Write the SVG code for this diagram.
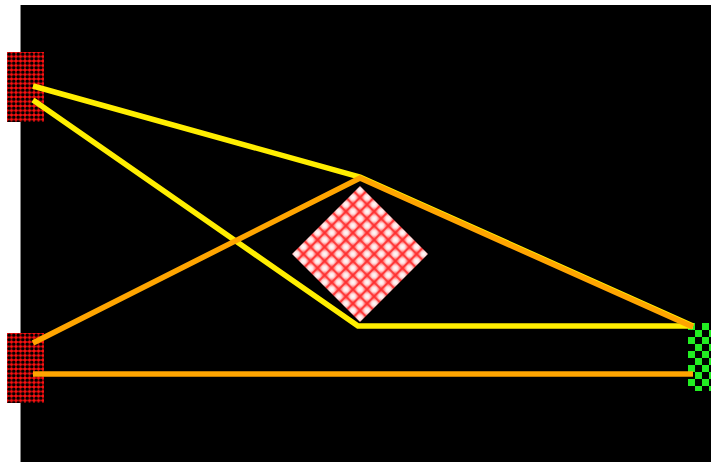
<svg xmlns="http://www.w3.org/2000/svg" width="711" height="462" viewBox="0 0 711 462">
<defs>
<style>
.y{fill:none;stroke:#ffee00;stroke-width:5.5;stroke-linejoin:miter}
.o{fill:none;stroke:#ffa500;stroke-width:5.5;stroke-linejoin:miter}
</style>
<pattern id="dots" width="4.5" height="4.5" patternUnits="userSpaceOnUse" x="7" y="52">
<rect width="4.5" height="4.5" fill="#ff1010"/>
<circle cx="2.25" cy="2.25" r="1.9" fill="#000"/>
</pattern>
<pattern id="dots2" width="4.5" height="4.5" patternUnits="userSpaceOnUse" x="7" y="333">
<rect width="4.5" height="4.5" fill="#ff1010"/>
<circle cx="2.25" cy="2.25" r="1.9" fill="#000"/>
</pattern>
<pattern id="check" width="14" height="14" patternUnits="userSpaceOnUse" x="688" y="323">
<rect width="14" height="14" fill="#000"/>
<rect width="7" height="7" fill="#22ee22"/>
<rect x="7" y="7" width="7" height="7" fill="#22ee22"/>
</pattern>
<radialGradient id="cell">
<stop offset="0" stop-color="#ffffff"/>
<stop offset="0.5" stop-color="#ffe0e0"/>
<stop offset="1" stop-color="#ff7070"/>
</radialGradient>
<pattern id="grid" width="10" height="10" patternUnits="userSpaceOnUse" patternTransform="rotate(45 360 254)" x="360" y="254">
<rect width="10" height="10" fill="url(#cell)"/>
<path d="M0 0H10M0 0V10M0 10H10M10 0V10" stroke="#ff2a2a" stroke-width="1.6" fill="none"/>
</pattern>
</defs>
<rect x="21" y="5" width="690" height="457" fill="#000"/>
<line x1="20.5" y1="5" x2="20.5" y2="462" stroke="#888" stroke-width="1"/>
<g id="diamond">
<polygon points="360,186 428,254 360,322 292,254" fill="url(#grid)"/>
</g>
<g id="node-left-top">
<rect x="7" y="52" width="37" height="70" fill="url(#dots)"/>
</g>
<g id="node-left-bottom">
<rect x="7" y="333" width="37" height="70" fill="url(#dots2)"/>
</g>
<g id="node-right">
<rect x="688" y="323" width="23" height="68" fill="url(#check)"/>
</g>
<g id="connectors">
<polyline class="o" points="33,374 363,374 693,374"/>
<polyline class="y" points="33,100 358,326 693,326"/>
<polyline class="y" points="33,86 360,177 693,326"/>
<polyline class="o" points="33,343 360,178 693,327"/>
</g>
</svg>
